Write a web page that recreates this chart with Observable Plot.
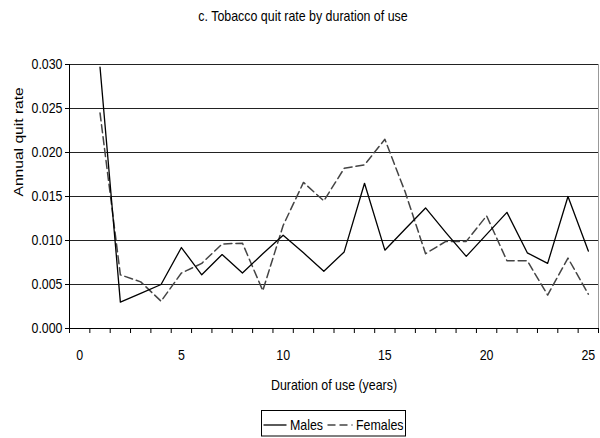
<!DOCTYPE html>
<html>
<head>
<meta charset="utf-8">
<script src="https://cdn.jsdelivr.net/npm/d3@7"></script>
<script src="https://cdn.jsdelivr.net/npm/@observablehq/plot@0.6"></script>
<style>
  html, body { margin: 0; padding: 0; background: #fff; }
  #wrap { position: relative; width: 600px; height: 438px; }
  #legend { position: absolute; left: 0; top: 0; }
</style>
</head>
<body>
<div id="wrap"></div>
<script>
const titleText = "c. Tobacco quit rate by duration of use";
const xLabel = "Duration of use (years)";
const yLabel = "Annual quit rate";
const years = [1,2,3,4,5,6,7,8,9,10,11,12,13,14,15,16,17,18,19,20,21,22,23,24,25];
const males = [0.0297,0.0030,0.0040,0.0050,0.0092,0.0061,0.0084,0.0063,0.0085,0.0106,0.0086,0.0065,0.0087,0.0165,0.0089,0.0113,0.0137,0.0109,0.0082,0.0107,0.0132,0.0086,0.0074,0.0150,0.0088];
const females = [0.0245,0.0061,0.0053,0.0031,0.0063,0.0074,0.0096,0.0097,0.0043,0.0117,0.0166,0.0145,0.0182,0.0186,0.0215,0.0155,0.0085,0.0099,0.0099,0.0128,0.0077,0.0077,0.0038,0.0080,0.0039];
const seriesNames = ["Males", "Females"];
const yTicks = [0, 0.005, 0.010, 0.015, 0.020, 0.025, 0.030];
const xTickLabels = [0, 5, 10, 15, 20, 25];
const xCategories = d3.range(0, 26);

const FONT = "'Liberation Sans', Arial, Helvetica, sans-serif";
const FS = 14.5;       // tall glyphs
const SQUEEZE = 0.855; // horizontal compression of horizontal texts
const YFS = 13;        // y label size
const YSTRETCH = 1.2;  // y label stretched along its length

const maleData = years.map((x, i) => ({x, y: males[i]}));
const femaleData = years.map((x, i) => ({x, y: females[i]}));
const xTickMarks = xCategories.map(c => c - 0.5).concat([xCategories[xCategories.length - 1] + 0.5]);

const chart = Plot.plot({
  width: 600,
  height: 438,
  marginTop: 64,
  marginBottom: 110,
  marginLeft: 69,
  marginRight: 2,
  x: {domain: [xTickMarks[0], xTickMarks[xTickMarks.length - 1]]},
  y: {domain: [yTicks[0], yTicks[yTicks.length - 1]]},
  style: {fontFamily: FONT, fontSize: FS + "px", color: "#000", background: "#fff"},
  marks: [
    Plot.ruleY(yTicks, {stroke: "#222", strokeWidth: 1}),
    Plot.ruleX([xTickMarks[xTickMarks.length - 1]], {stroke: "#999", strokeWidth: 1}),
    Plot.ruleX([xTickMarks[0]], {stroke: "#000", strokeWidth: 1}),
    Plot.ruleY([0], {stroke: "#000", strokeWidth: 1}),
    Plot.axisY({ticks: yTicks, tickSize: 4, tickPadding: 3, tickFormat: d3.format(".3f"), label: null, fontSize: FS}),
    Plot.axisX({ticks: xTickMarks, tickSize: 5, tickFormat: () => "", label: null}),
    Plot.axisX({ticks: xTickLabels, tickSize: 0, tickPadding: 21, label: null, fontSize: FS}),
    Plot.line(femaleData, {x: "x", y: "y", stroke: "#444", strokeWidth: 1.5, strokeDasharray: "8,4"}),
    Plot.line(maleData, {x: "x", y: "y", stroke: "#000", strokeWidth: 1.3}),
    Plot.text([xLabel], {frameAnchor: "bottom", lineAnchor: "middle", dy: 57, fontSize: FS, fill: "#000"}),
    Plot.text([yLabel], {frameAnchor: "left", lineAnchor: "middle", dx: -51, rotate: -90, fontSize: YFS, fill: "#000", className: "ylab"}),
    Plot.text([titleText], {frameAnchor: "top", lineAnchor: "middle", dy: -48, dx: -31, fontSize: FS, fill: "#000"})
  ]
});

const wrap = document.getElementById("wrap");
wrap.appendChild(chart);

// Legend overlay
const lg = d3.select(wrap).append("svg")
  .attr("id", "legend")
  .attr("width", 600).attr("height", 438)
  .style("font-family", FONT).style("font-size", FS + "px");
const bx = 261.5, by = 410.5, bw = 144, bh = 25.5;
lg.append("rect").attr("x", bx).attr("y", by).attr("width", bw).attr("height", bh)
  .attr("fill", "#fff").attr("stroke", "#000").attr("stroke-width", 1);
const cy = 425;
lg.append("line").attr("x1", bx + 2).attr("x2", bx + 25).attr("y1", cy).attr("y2", cy)
  .attr("stroke", "#000").attr("stroke-width", 1.3);
lg.append("text").attr("x", bx + 28.5).attr("y", cy).attr("dy", "0.35em").text(seriesNames[0]);
lg.append("line").attr("x1", bx + 66).attr("x2", bx + 91).attr("y1", cy).attr("y2", cy)
  .attr("stroke", "#444").attr("stroke-width", 1.5).attr("stroke-dasharray", "8,4");
lg.append("text").attr("x", bx + 94.5).attr("y", cy).attr("dy", "0.35em").text(seriesNames[1]);

// Emulate the tall, narrow lettering of the original
wrap.querySelectorAll("text").forEach(t => {
  if (!t.textContent) return;
  const isY = t.closest(".ylab") || (t.parentNode && t.parentNode.classList && t.parentNode.classList.contains("ylab"));
  const w = t.getComputedTextLength();
  if (!w) return;
  t.setAttribute("textLength", (w * (isY ? YSTRETCH : SQUEEZE)).toFixed(2));
  t.setAttribute("lengthAdjust", "spacingAndGlyphs");
});
</script>
</body>
</html>
